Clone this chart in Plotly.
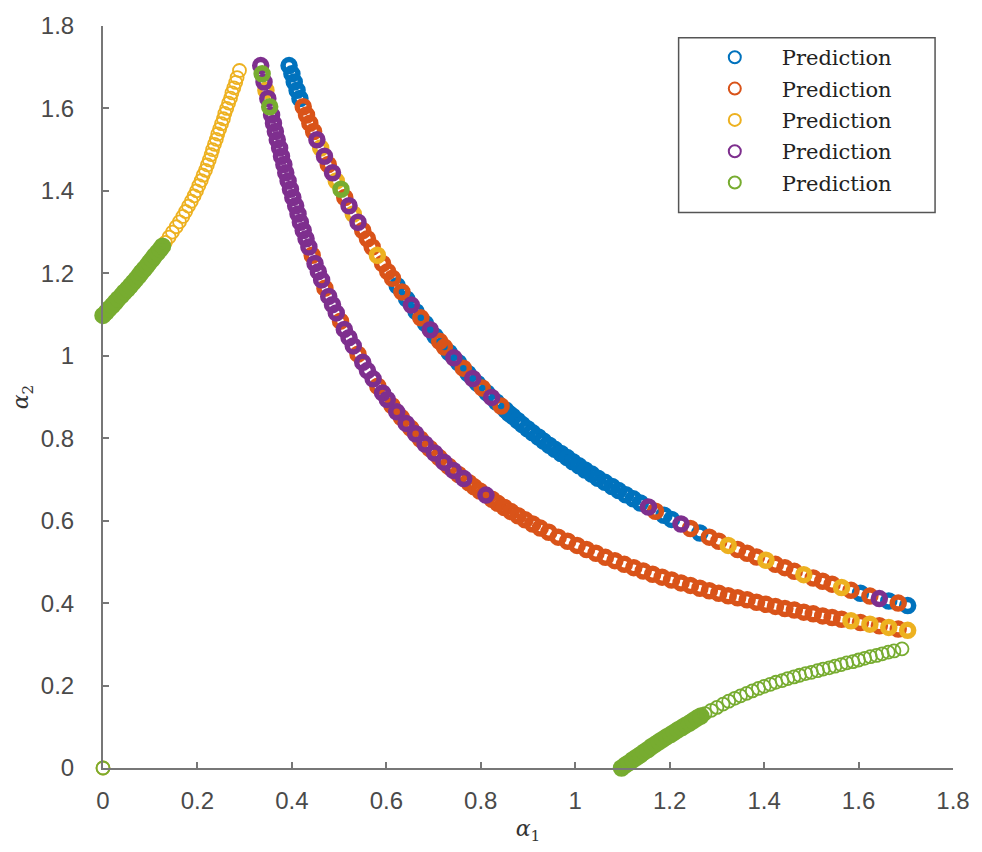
import plotly.graph_objects as go

# ---------------- data ----------------
series_names = ["Prediction", "Prediction", "Prediction", "Prediction", "Prediction"]
series_colors = ["#0072BD", "#D95319", "#EDB120", "#7E2F8E", "#77AC30"]
tick_values = [0, 0.2, 0.4, 0.6, 0.8, 1.0, 1.2, 1.4, 1.6, 1.8]
tick_labels = ["0", "0.2", "0.4", "0.6", "0.8", "1", "1.2", "1.4", "1.6", "1.8"]

# upper branch (from top-left end to lower-right end)
upper_x = [0.394, 0.400, 0.405, 0.411, 0.417, 0.424, 0.431, 0.438, 0.446, 0.453, 0.461, 0.469, 0.477,
           0.486, 0.494, 0.504, 0.512, 0.521, 0.530, 0.540, 0.550, 0.560, 0.570, 0.581, 0.592, 0.603,
           0.613, 0.623, 0.633, 0.643, 0.653, 0.663, 0.673, 0.683, 0.693, 0.703, 0.713, 0.723, 0.733,
           0.743, 0.753, 0.763, 0.773, 0.783, 0.793, 0.803, 0.813, 0.823, 0.833, 0.843, 0.853,
           0.860,
           0.868, 0.878, 0.888, 0.899, 0.910, 0.922, 0.933, 0.945, 0.957, 0.970, 0.983, 0.995, 1.008,
           1.021, 1.035, 1.048, 1.063, 1.078, 1.092, 1.107, 1.123, 1.138, 1.155, 1.170, 1.188,
           1.204, 1.224, 1.244, 1.264, 1.284, 1.304, 1.324, 1.344, 1.364, 1.384, 1.404, 1.424, 1.444,
           1.464, 1.484, 1.504, 1.524, 1.544, 1.564, 1.584, 1.604, 1.624, 1.644, 1.664, 1.684, 1.704]
upper_y = [1.704, 1.684, 1.664, 1.644, 1.624, 1.604, 1.584, 1.564, 1.544, 1.524, 1.504, 1.484, 1.464,
           1.444, 1.424, 1.404, 1.384, 1.364, 1.344, 1.324, 1.304, 1.284, 1.264, 1.244, 1.224, 1.204,
           1.188, 1.170, 1.155, 1.138, 1.123, 1.107, 1.092, 1.078, 1.063, 1.048, 1.035, 1.021, 1.008,
           0.995, 0.983, 0.970, 0.957, 0.945, 0.933, 0.922, 0.910, 0.899, 0.888, 0.878, 0.868,
           0.860,
           0.853, 0.843, 0.833, 0.823, 0.813, 0.803, 0.793, 0.783, 0.773, 0.763, 0.753, 0.743, 0.733,
           0.723, 0.713, 0.703, 0.693, 0.683, 0.673, 0.663, 0.653, 0.643, 0.633, 0.623, 0.613,
           0.603, 0.592, 0.581, 0.570, 0.560, 0.550, 0.540, 0.530, 0.521, 0.512, 0.504, 0.494, 0.486,
           0.477, 0.469, 0.461, 0.453, 0.446, 0.438, 0.431, 0.424, 0.417, 0.411, 0.405, 0.400, 0.394]
# which series (1-5) each upper-branch point belongs to
upper_series = ("11111" "222" "2434243524342" "223222" "1214121412" "2141214121412"
                "11111111111111111111111" "14211421" "2232223222322232" "124121")

# lower branch
lower_x = [0.334, 0.337, 0.341, 0.345, 0.349, 0.353, 0.357, 0.361, 0.365, 0.369, 0.374, 0.378, 0.383,
           0.387, 0.392, 0.397, 0.402, 0.408, 0.413, 0.418, 0.424, 0.430, 0.436, 0.443, 0.449, 0.456,
           0.463, 0.470, 0.478, 0.486, 0.494, 0.503, 0.511, 0.521, 0.530, 0.540, 0.550, 0.560, 0.572,
           0.582, 0.592, 0.602, 0.612, 0.622, 0.632, 0.642, 0.652, 0.662, 0.672, 0.682, 0.692, 0.702,
           0.712, 0.722,
           0.732,
           0.742, 0.753, 0.764, 0.775, 0.786, 0.798, 0.811, 0.824, 0.836, 0.850, 0.864, 0.879, 0.894,
           0.910, 0.926,
           0.944, 0.964, 0.984, 1.004, 1.024, 1.044, 1.064, 1.084, 1.104, 1.124, 1.144, 1.164, 1.184,
           1.204, 1.224, 1.244, 1.264, 1.284, 1.304, 1.324, 1.344, 1.364, 1.384, 1.404, 1.424, 1.444,
           1.464, 1.484, 1.504, 1.524, 1.544, 1.564, 1.584, 1.604, 1.624, 1.644, 1.664, 1.684, 1.704]
lower_y = [1.704, 1.684, 1.664, 1.644, 1.624, 1.604, 1.584, 1.564, 1.544, 1.524, 1.504, 1.484, 1.464,
           1.444, 1.424, 1.404, 1.384, 1.364, 1.344, 1.324, 1.304, 1.284, 1.264, 1.244, 1.224, 1.204,
           1.184, 1.164, 1.144, 1.124, 1.104, 1.084, 1.064, 1.044, 1.024, 1.004, 0.984, 0.964, 0.944,
           0.926, 0.910, 0.894, 0.879, 0.864, 0.850, 0.836, 0.824, 0.811, 0.798, 0.786, 0.775, 0.764,
           0.753, 0.742,
           0.732,
           0.722, 0.712, 0.702, 0.692, 0.682, 0.672, 0.662, 0.652, 0.642, 0.632, 0.622, 0.612, 0.602,
           0.592, 0.582,
           0.572, 0.560, 0.550, 0.540, 0.530, 0.521, 0.511, 0.503, 0.494, 0.486, 0.478, 0.470, 0.463,
           0.456, 0.449, 0.443, 0.436, 0.430, 0.424, 0.418, 0.413, 0.408, 0.402, 0.397, 0.392, 0.387,
           0.383, 0.378, 0.374, 0.369, 0.365, 0.361, 0.357, 0.353, 0.349, 0.345, 0.341, 0.337, 0.334]
lower_series = ("454345" "44444444444444" "444244424442444244424" "424242424242424" "2422242"
                "22222222222222222222222222222222222222" "23232323")

# left arc: dense green part then open yellow part
left_green_x = [0.000, 0.007, 0.013, 0.020, 0.026, 0.032, 0.039, 0.045, 0.052, 0.058, 0.064,
                0.070, 0.076, 0.081, 0.087, 0.093, 0.098, 0.104, 0.109, 0.115, 0.121, 0.126]
left_green_y = [1.098, 1.106, 1.114, 1.122, 1.130, 1.138, 1.146, 1.154, 1.162, 1.170, 1.178,
                1.186, 1.194, 1.202, 1.210, 1.218, 1.226, 1.234, 1.242, 1.250, 1.258, 1.266]
left_yellow_x = [0.132, 0.140, 0.147, 0.155, 0.162, 0.169, 0.175, 0.181, 0.187, 0.193, 0.198, 0.203,
                 0.208, 0.212, 0.217, 0.221, 0.225, 0.229, 0.232, 0.236, 0.240, 0.243, 0.247, 0.251,
                 0.255, 0.258, 0.262, 0.266, 0.270, 0.273, 0.277, 0.281, 0.284, 0.289]
left_yellow_y = [1.275, 1.288, 1.300, 1.313, 1.325, 1.338, 1.350, 1.363, 1.375, 1.388, 1.400, 1.413,
                 1.425, 1.438, 1.450, 1.463, 1.475, 1.488, 1.500, 1.513, 1.525, 1.538, 1.550, 1.563,
                 1.575, 1.588, 1.600, 1.613, 1.625, 1.638, 1.650, 1.663, 1.675, 1.692]

# bottom-right arc: dense green part then open green part
right_dense_x = [1.098, 1.106, 1.114, 1.122, 1.130, 1.138, 1.146, 1.154, 1.162, 1.170, 1.178,
                 1.186, 1.194, 1.202, 1.210, 1.218, 1.226, 1.234, 1.242, 1.250, 1.258, 1.266]
right_dense_y = [0.000, 0.007, 0.013, 0.020, 0.026, 0.032, 0.039, 0.045, 0.052, 0.058, 0.064,
                 0.070, 0.076, 0.081, 0.087, 0.093, 0.098, 0.104, 0.109, 0.115, 0.121, 0.126]
right_open_x = [1.275, 1.288, 1.300, 1.313, 1.325, 1.338, 1.350, 1.363, 1.375, 1.388, 1.400, 1.413,
                1.425, 1.438, 1.450, 1.463, 1.475, 1.488, 1.500, 1.513, 1.525, 1.538, 1.550, 1.563,
                1.575, 1.588, 1.600, 1.613, 1.625, 1.638, 1.650, 1.663, 1.675, 1.692]
right_open_y = [0.132, 0.140, 0.147, 0.155, 0.162, 0.169, 0.175, 0.181, 0.187, 0.193, 0.198, 0.203,
                0.208, 0.212, 0.217, 0.221, 0.225, 0.229, 0.232, 0.236, 0.240, 0.243, 0.247, 0.251,
                0.255, 0.258, 0.262, 0.266, 0.270, 0.273, 0.277, 0.281, 0.284, 0.289]

origin_x = [0.0]
origin_y = [0.0]

# ---------------- assemble series ----------------
dense = {k: ([], []) for k in range(1, 6)}    # heavily overlapping rings
sparse = {k: ([], []) for k in range(1, 6)}   # isolated thin rings
for xs, ys, ss in [(upper_x, upper_y, upper_series), (lower_x, lower_y, lower_series)]:
    for x, y, s in zip(xs, ys, ss):
        dense[int(s)][0].append(x)
        dense[int(s)][1].append(y)

dense[5][0].extend(left_green_x + right_dense_x)
dense[5][1].extend(left_green_y + right_dense_y)
sparse[3][0].extend(left_yellow_x + origin_x)
sparse[3][1].extend(left_yellow_y + origin_y)
sparse[5][0].extend(right_open_x + origin_x)
sparse[5][1].extend(right_open_y + origin_y)

fig = go.Figure()
for k in range(1, 6):
    c = series_colors[k - 1]
    fig.add_trace(go.Scatter(
        x=dense[k][0], y=dense[k][1], mode="markers", name=series_names[k - 1],
        legendgroup="g%d" % k, cliponaxis=False, showlegend=True,
        marker=dict(symbol="circle-open", size=12, color=c, line=dict(width=5.5, color=c)),
    ))
    if sparse[k][0]:
        fig.add_trace(go.Scatter(
            x=sparse[k][0], y=sparse[k][1], mode="markers", name=series_names[k - 1],
            legendgroup="g%d" % k, cliponaxis=False, showlegend=False,
            marker=dict(symbol="circle-open", size=13, color=c, line=dict(width=1.8, color=c)),
        ))

axis_style = dict(
    range=[0, 1.8], tickvals=tick_values, ticktext=tick_labels,
    showline=True, linecolor="#777777", linewidth=2, mirror=False,
    ticks="inside", ticklen=6, tickwidth=1.5, tickcolor="#777777",
    showgrid=False, zeroline=False,
    tickfont=dict(family="Liberation Sans, Arial, sans-serif", size=24, color="#4a4a4a"),
)

fig.update_layout(
    width=982, height=852,
    margin=dict(l=103, r=24, t=20, b=84),
    paper_bgcolor="white", plot_bgcolor="white",
    xaxis=dict(**axis_style, ticklabelstandoff=10,
               title=dict(text="<i>α</i><sub>1</sub>", standoff=8,
                          font=dict(family="DejaVu Serif, serif", size=22, color="#333333"))),
    yaxis=dict(**axis_style, ticklabelstandoff=22,
               title=dict(text="<i>α</i><sub>2</sub>", standoff=6,
                          font=dict(family="DejaVu Serif, serif", size=22, color="#333333"))),
    legend=dict(x=0.688, y=0.985, xanchor="left", yanchor="top",
                bgcolor="rgba(0,0,0,0)", borderwidth=0, itemwidth=84,
                tracegroupgap=1, itemsizing="constant",
                font=dict(family="DejaVu Serif, serif", size=21, color="#222222")),
    shapes=[dict(type="rect", xref="paper", yref="paper",
                 x0=0.6772, x1=0.9789, y0=0.7487, y1=0.9840,
                 line=dict(color="#555555", width=1.5), fillcolor="white", layer="above")],
    showlegend=True,
)

fig.write_html("out.html", config={"displayModeBar": False})
